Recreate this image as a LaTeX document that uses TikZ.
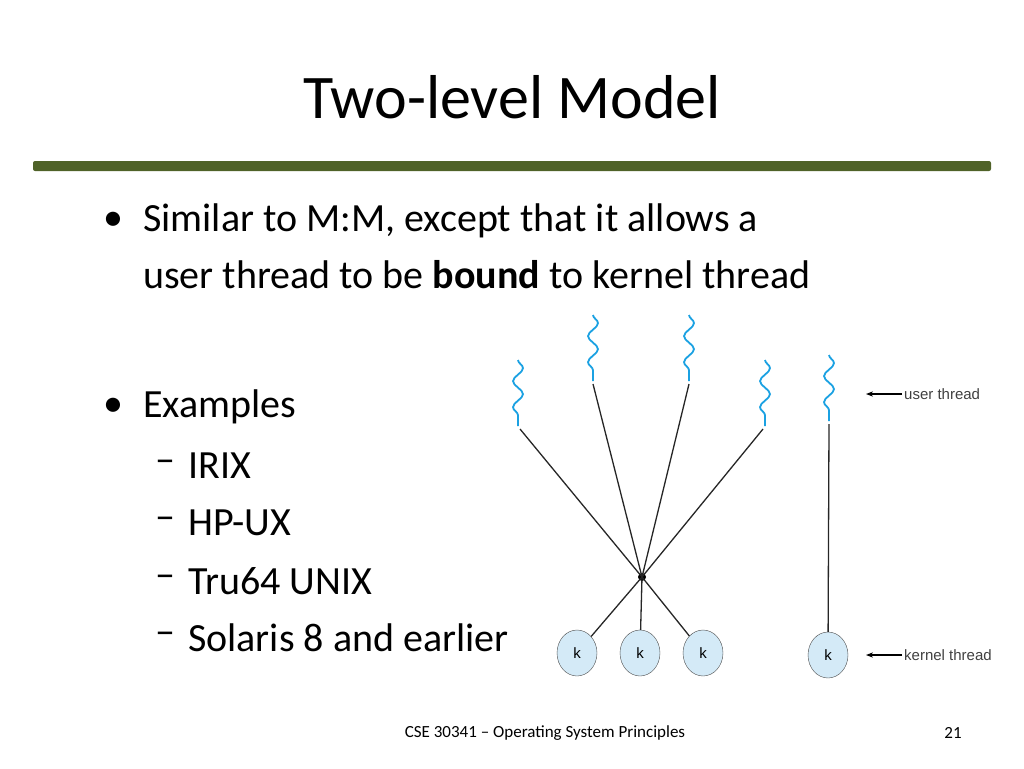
\documentclass[tikz,border=0pt]{standalone}
\usepackage{fontspec}
\setmainfont{Carlito}
\newfontfamily\labelfont{Liberation Sans}
\usetikzlibrary{arrows.meta, positioning, shapes.geometric, decorations.pathmorphing}
\definecolor{barolive}{HTML}{4F6228}
\definecolor{threadblue}{HTML}{1BA1E2}
\definecolor{kfill}{HTML}{D4EAF7}
\begin{document}
\begin{tikzpicture}[x=1pt, y=-1pt, >={Stealth[length=7pt]},
    every node/.style={inner sep=0pt},
    slidetext/.style={anchor=west, font={\fontsize{40}{46}\selectfont}},
    uthread/.style={threadblue, line width=1.8pt, decorate, decoration={snake, amplitude=5pt, segment length=26pt}},
    kthread/.style={draw=black!70, fill=kfill, ellipse, minimum width=40pt, minimum height=46pt, font={\labelfont\fontsize{15}{18}\selectfont}},
    link/.style={line width=1.3pt, black!85},
    tag/.style={anchor=west, font={\labelfont\fontsize{15}{18}\selectfont}, text=black!75}]
    \useasboundingbox (0,0) rectangle (1024,768);
    \node (title) at (512,97) {\fontsize{62}{70}\selectfont Two-level Model};
    \fill[barolive, rounded corners=2pt] (33,161) rectangle (991,171);
    % bullets
    \node[slidetext] (d1) at (103,221) {•};
    \node[slidetext] (b1) at (143,221) {Similar to M:M, except that it allows a};
    \node[slidetext] (b1b) at (143,275) {user thread to be \textbf{bound} to kernel thread};
    \node[slidetext] (d2) at (103,407) {•};
    \node[slidetext] (b2) at (143,407) {Examples};
    \foreach \name/\y/\txt in {e1/466/IRIX, e2/523/HP-UX, e3/581/Tru64 UNIX, e4/638/Solaris 8 and earlier} {
        \node[slidetext] at (155,\y) {–};
        \node[slidetext] (\name) at (188,\y) {\txt};
    }
    % user threads
    \foreach \name/\x/\y in {u1/518/360, u2/593/315, u3/689/315, u4/765/360, u5/829/355} {
        \coordinate (\name top) at (\x,\y);
        \coordinate (\name) at (\x,\y+66);
        \draw[uthread] (\name top) -- (\name);
    }
    % kernel threads
    \node[kthread] (k1) at (577,653) {k};
    \node[kthread] (k2) at (640,653) {k};
    \node[kthread] (k3) at (703,653) {k};
    \node[kthread] (k4) at (828,655) {k};
    \node[circle, fill=black, minimum size=8pt] (hub) at (642,577) {};
    \foreach \u/\dx in {u1/1, u2/0, u3/0, u4/-1}
        \draw[link] ([xshift=\dx*2pt, yshift=-3pt]\u) -- (hub.center);
    \foreach \k in {k1, k2, k3}
        \draw[link] (hub.center) -- (\k);
    \draw[link] ([yshift=-3pt]u5) -- (k4);
    % labels
    \node[tag] (ulabel) at (904,394) {user thread};
    \node[tag] (klabel) at (904,655) {kernel thread};
    \draw[->, line width=1.2pt] (ulabel.west) ++(-2,0) -- ++(-36,0);
    \draw[->, line width=1.2pt] (klabel.west) ++(-2,0) -- ++(-36,0);
    % footer
    \node (footer) at (545,733) {\fontsize{17}{20}\selectfont CSE 30341 – Operating System Principles};
    \node (page) at (953,733) {\fontsize{17}{20}\selectfont 21};
\end{tikzpicture}
\end{document}
